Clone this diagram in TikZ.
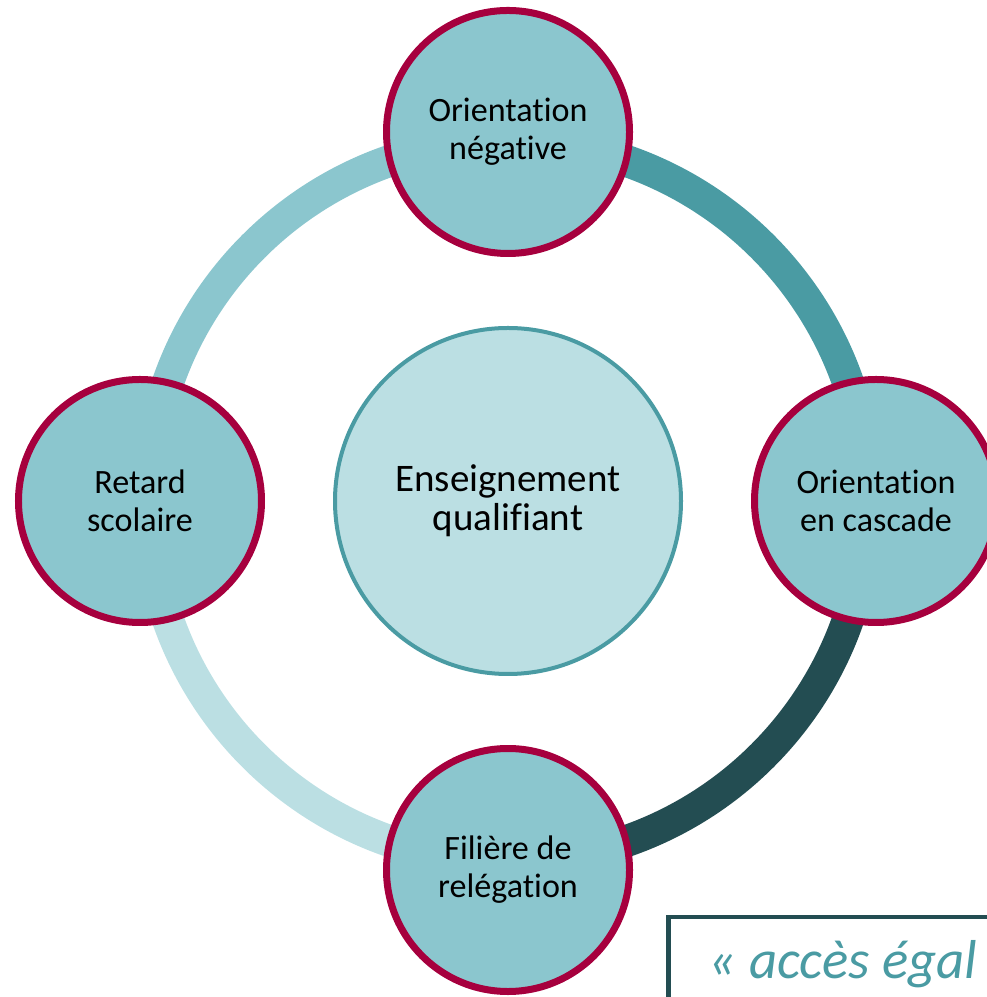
\documentclass[tikz,border=0pt]{standalone}
\usepackage{fontspec}
\setmainfont{Carlito}[Ligatures=CommonOff]
\usepackage{tikz}
\usetikzlibrary{positioning, calc}
\definecolor{ringlight}{RGB}{139,198,206}
\definecolor{ringmid}{RGB}{74,155,163}
\definecolor{ringdark}{RGB}{35,77,82}
\definecolor{ringpale}{RGB}{187,223,227}
\definecolor{rimred}{RGB}{166,0,62}
\tikzset{>=latex}

\begin{document}
\begin{tikzpicture}[
    ring/.style={line width=0.32cm},
    stage/.style={circle,draw=rimred,line width=0.07cm,fill=ringlight,minimum size=2.43cm,inner sep=0pt,align=center,font=\fontsize{9.7}{10.8}\selectfont},
    core/.style={circle,draw=ringmid,line width=0.04cm,fill=ringpale,minimum size=3.46cm,inner sep=0pt,align=center,font=\fontsize{11.1}{11.1}\selectfont},
    quotebox/.style={draw=ringdark,line width=0.045cm},
    quotetext/.style={anchor=base west,inner sep=0pt,text=ringmid,font=\fontsize{15.6}{19}\selectfont\itshape}
  ]
    \useasboundingbox (-5.08,5.01) rectangle (4.78,-4.96);
    \coordinate (c) at (0,0);
    % the ring, one quarter at a time
    \draw[ring,ringlight] (c) ++(90:3.6) arc[start angle=90,end angle=180,radius=3.6];
    \draw[ring,ringmid] (c) ++(0:3.6) arc[start angle=0,end angle=90,radius=3.6];
    \draw[ring,ringdark] (c) ++(270:3.6) arc[start angle=270,end angle=360,radius=3.6];
    \draw[ring,ringpale] (c) ++(180:3.6) arc[start angle=180,end angle=270,radius=3.6];
    \node[core] (eq) at (c) {Enseignement\\qualifiant};
    \node[stage] (neg) at (90:3.69) {Orientation\\négative};
    \node[stage] (casc) at (0:3.68) {Orientation\\en cascade};
    \node[stage] (rel) at (270:3.69) {Filière de\\relégation};
    \node[stage] (ret) at (180:3.68) {Retard\\scolaire};
    % quote box, cut by the page edge
    \draw[quotebox] (1.605,-4.16) rectangle (6,-6);
    \node[quotetext] (acces) at (2.00,-4.77) {« accès égal};
\end{tikzpicture}
\end{document}
